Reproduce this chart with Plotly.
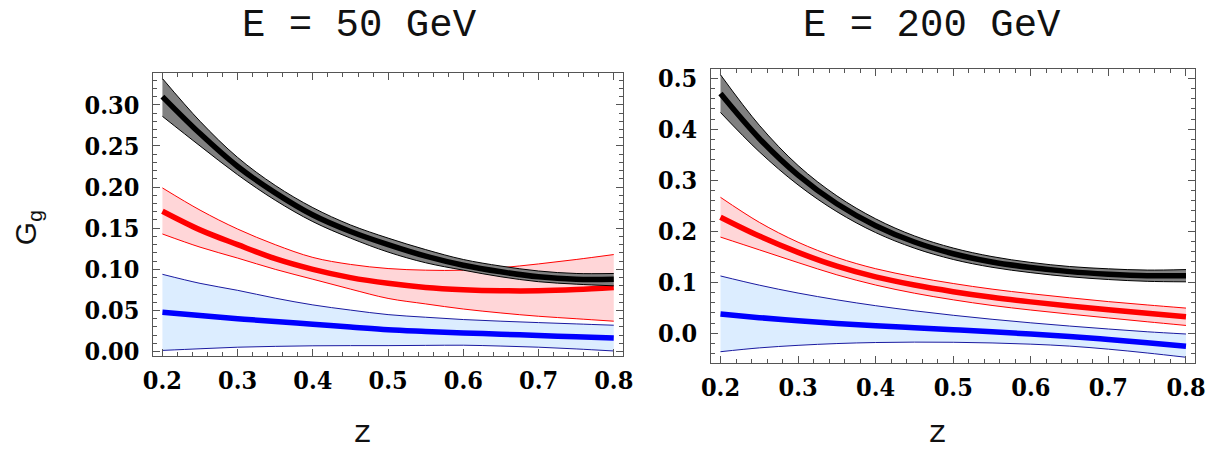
import plotly.graph_objects as go

# ---------------- data ----------------
z = [0.2, 0.25, 0.3, 0.35, 0.4, 0.45, 0.5, 0.55, 0.6, 0.65, 0.7, 0.75, 0.8]

# E = 50 GeV
e50_black_hi = [0.332, 0.280, 0.236, 0.202, 0.175, 0.154, 0.138, 0.124, 0.112, 0.104, 0.098, 0.095, 0.095]
e50_black    = [0.310, 0.265, 0.225, 0.193, 0.166, 0.146, 0.130, 0.116, 0.105, 0.097, 0.091, 0.088, 0.088]
e50_black_lo = [0.286, 0.250, 0.215, 0.184, 0.158, 0.138, 0.121, 0.108, 0.099, 0.091, 0.085, 0.082, 0.080]
e50_red_hi   = [0.199, 0.172, 0.149, 0.130, 0.1145, 0.106, 0.101, 0.099, 0.099, 0.102, 0.1066, 0.112, 0.118]
e50_red      = [0.1706, 0.148, 0.130, 0.113, 0.100, 0.090, 0.083, 0.078, 0.0753, 0.074, 0.074, 0.0755, 0.078]
e50_red_lo   = [0.143, 0.127, 0.1137, 0.100, 0.088, 0.076, 0.0647, 0.058, 0.0518, 0.047, 0.043, 0.040, 0.037]
e50_blue_hi  = [0.094, 0.083, 0.0745, 0.065, 0.0568, 0.0505, 0.045, 0.0418, 0.039, 0.037, 0.0353, 0.0337, 0.0321]
e50_blue     = [0.048, 0.044, 0.040, 0.0366, 0.0333, 0.030, 0.0266, 0.0246, 0.0228, 0.0212, 0.0196, 0.018, 0.0165]
e50_blue_lo  = [0.0015, 0.0035, 0.0054, 0.0064, 0.0071, 0.0073, 0.0073, 0.0076, 0.0078, 0.0068, 0.0054, 0.0033, 0.0008]

# E = 200 GeV
e200_black_hi = [0.507, 0.408, 0.329, 0.2695, 0.2245, 0.191, 0.1672, 0.1505, 0.139, 0.131, 0.1265, 0.124, 0.125]
e200_black    = [0.470, 0.382, 0.310, 0.254, 0.211, 0.179, 0.156, 0.140, 0.129, 0.121, 0.116, 0.113, 0.113]
e200_black_lo = [0.433, 0.356, 0.291, 0.2385, 0.1975, 0.167, 0.1448, 0.1295, 0.119, 0.111, 0.1055, 0.102, 0.101]
e200_red_hi   = [0.2667, 0.2177, 0.1787, 0.1487, 0.1267, 0.1107, 0.0977, 0.0867, 0.0777, 0.0697, 0.0622, 0.0557, 0.0495]
e200_red      = [0.2277, 0.1907, 0.1587, 0.1317, 0.1107, 0.0947, 0.0817, 0.0707, 0.0617, 0.0537, 0.0462, 0.0392, 0.0325]
e200_red_lo   = [0.1887, 0.1637, 0.1387, 0.1147, 0.0947, 0.0787, 0.0657, 0.0547, 0.0457, 0.0377, 0.0302, 0.0227, 0.0155]
e200_blue_hi  = [0.1125, 0.0945, 0.079, 0.0657, 0.0542, 0.0442, 0.0354, 0.0276, 0.0206, 0.0143, 0.0085, 0.0031, -0.0013]
e200_blue     = [0.038, 0.0308, 0.0246, 0.0194, 0.0149, 0.0109, 0.0070, 0.0030, -0.0014, -0.0064, -0.0121, -0.0186, -0.0254]
e200_blue_lo  = [-0.036, -0.0285, -0.0235, -0.020, -0.018, -0.0172, -0.0175, -0.0188, -0.0212, -0.025, -0.031, -0.0385, -0.0469]

titles = ["E = 50 GeV", "E = 200 GeV"]
x_label = "z"
y_label = "G<sub>g</sub>"

# ---------------- styling ----------------
groups = [
    # (fill colour, edge colour, centre colour)
    ("#DCEDFF", "#1A1AA0", "#0000FF"),
    ("#FFD6D8", "#FF0000", "#FF0000"),
    ("#808080", "#000000", "#000000"),
]

fig = go.Figure()


def add_panel(xa, ya, bands):
    for (lo, c, hi), (fillc, edgec, centc) in zip(bands, groups):
        fig.add_trace(go.Scatter(x=z, y=lo, mode="lines", xaxis=xa, yaxis=ya,
                                 line=dict(color=edgec, width=1, shape="spline"),
                                 showlegend=False, hoverinfo="skip"))
        fig.add_trace(go.Scatter(x=z, y=hi, mode="lines", xaxis=xa, yaxis=ya,
                                 fill="tonexty", fillcolor=fillc,
                                 line=dict(color=edgec, width=1, shape="spline"),
                                 showlegend=False, hoverinfo="skip"))
        fig.add_trace(go.Scatter(x=z, y=c, mode="lines", xaxis=xa, yaxis=ya,
                                 line=dict(color=centc, width=5.5, shape="spline"),
                                 showlegend=False, hoverinfo="skip"))


add_panel("x", "y", [(e50_blue_lo, e50_blue, e50_blue_hi),
                     (e50_red_lo, e50_red, e50_red_hi),
                     (e50_black_lo, e50_black, e50_black_hi)])
add_panel("x2", "y2", [(e200_blue_lo, e200_blue, e200_blue_hi),
                       (e200_red_lo, e200_red, e200_red_hi),
                       (e200_black_lo, e200_black, e200_black_hi)])

tick_font = dict(family="DejaVu Serif Condensed, DejaVu Serif", size=25,
                 color="#000", weight="bold")
frame = "#555555"


def axis(domain, rng, dtick, mdtick, fmt, anchor, standoff):
    return dict(domain=domain, range=rng, anchor=anchor, dtick=dtick, tick0=0,
                tickformat=fmt, ticks="inside", ticklen=7, tickwidth=1,
                tickcolor=frame, showline=True, linecolor=frame, linewidth=1,
                mirror="allticks", showgrid=False, zeroline=False,
                tickfont=tick_font, ticklabelstandoff=standoff,
                minor=dict(ticks="inside", ticklen=4, dtick=mdtick, tick0=0,
                           tickcolor=frame, showgrid=False))


W, H = 1223, 460
fig.update_layout(
    width=W, height=H, margin=dict(l=0, r=0, t=0, b=0),
    paper_bgcolor="white", plot_bgcolor="white",
    xaxis=axis([145 / W, 623 / W], [0.188, 0.812], 0.1, 0.02, ".1f", "y", 2),
    yaxis=axis([1 - 363 / H, 1 - 70 / H], [-0.0055, 0.339], 0.05, 0.01, ".2f", "x", 8),
    xaxis2=axis([713 / W, 1206 / W], [0.188, 0.812], 0.1, 0.02, ".1f", "y2", 2),
    yaxis2=axis([1 - 370 / H, 1 - 66 / H], [-0.058, 0.5185], 0.1, 0.02, ".1f", "x2", 8),
)

mono = dict(family="Liberation Mono", size=39, color="#111")
ann = []
for t, xc in zip(titles, [355, 938]):
    ann.append(dict(text=t, x=xc / W, y=1 - 22 / H, xref="paper", yref="paper",
                    showarrow=False, xanchor="center", yanchor="middle", font=mono))
for xc in [358, 943]:
    ann.append(dict(text=x_label, x=xc / W, y=-0.01, xref="paper", yref="paper",
                    showarrow=False, xanchor="center", yanchor="bottom",
                    font=dict(family="Liberation Mono", size=32, color="#111")))
ann.append(dict(text=y_label, x=17 / W, y=1 - 230 / H, xref="paper", yref="paper",
                showarrow=False, xanchor="center", yanchor="middle", textangle=-90,
                font=dict(family="Liberation Sans", size=30, color="#111")))
fig.update_layout(annotations=ann)

fig.write_html("out.html", config={"displayModeBar": False},
               post_script="document.body.style.margin='0';document.body.style.padding='0';")
